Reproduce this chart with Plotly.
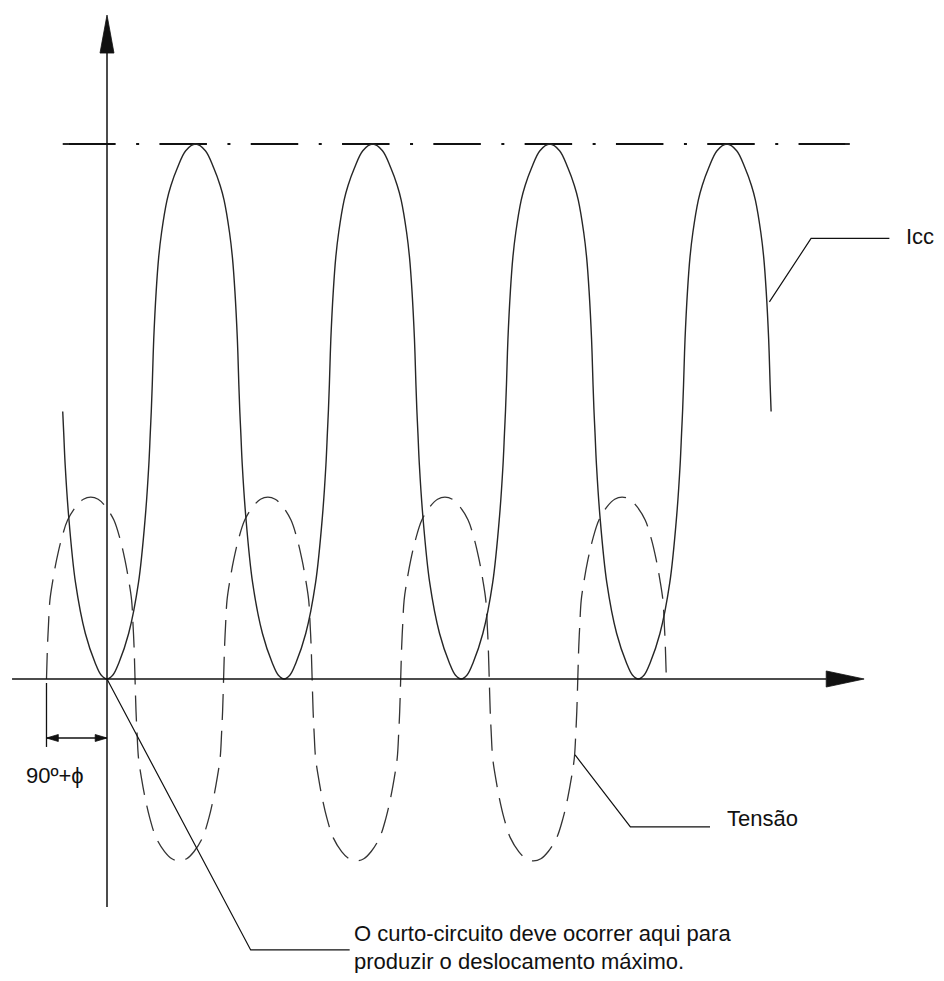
import plotly.graph_objects as go

# ---------------- data (x: electrical degrees, y: per-unit of symmetric peak) -------------
# Icc: fully offset short-circuit current, read arch by arch
ICC_TROUGH_CENTERS = [0, 360, 720, 1080]
ICC_PEAK_CENTERS = [180, 540, 900, 1260]
ICC_TROUGH_OFFSETS = [-90, -88, -85, -78, -64, -44, -24, -12, 0, 12, 24, 44, 64, 78, 85, 88, 90]
ICC_TROUGH_VALUES = [1.0, 0.92, 0.80, 0.61, 0.36, 0.17, 0.06, 0.015, 0.0,
                     0.015, 0.06, 0.17, 0.36, 0.61, 0.80, 0.92, 1.0]
ICC_PEAK_OFFSETS = [-90, -88, -85, -80, -75, -69, -58, -50, -37, -20, 0,
                    20, 37, 50, 58, 69, 75, 80, 85, 88, 90]
ICC_PEAK_VALUES = [1.0, 1.10, 1.27, 1.45, 1.575, 1.67, 1.79, 1.845, 1.91, 1.975, 2.0,
                   1.975, 1.91, 1.845, 1.79, 1.67, 1.575, 1.45, 1.27, 1.10, 1.0]
ICC_PEAK_LEVEL = 2.0

# Tensão: supply voltage, 90º+phi ahead of the current zero
TENSAO_POS_CENTERS = [-33, 327, 687, 1047]
TENSAO_NEG_CENTERS = [147, 507, 867]
TENSAO_OFFSETS = [-90, -88, -86, -83, -77, -69.5, -60, -47, -30, -15, 0,
                  15, 30, 47, 60, 69.5, 77, 83, 86, 88, 90]
TENSAO_VALUES = [0.0, 0.121, 0.20, 0.295, 0.37, 0.445, 0.52, 0.594, 0.645, 0.672, 0.68,
                 0.672, 0.645, 0.594, 0.52, 0.445, 0.37, 0.295, 0.20, 0.121, 0.0]
TENSAO_START = -123          # voltage zero crossing (start of the 90º+phi interval)

# reference (peak) dash-dot line
REF_X = [-90, 1510]
REF_DASH_X = [-79, 1502]

# axes extents
X_AXIS = [-193, 1462]
X_ARROW_TIP = 1539
Y_AXIS = [-0.852, 2.345]
Y_ARROW_TIP = 2.482

# labels / leaders
LEADER_ICC_X = [1346.5, 1431.2, 1590.4]
LEADER_ICC_Y = [1.41, 1.647, 1.647]
LEADER_TENSAO_X = [951.5, 1063.9, 1225.8]
LEADER_TENSAO_Y = [-0.284, -0.553, -0.553]
LEADER_CC_X = [0, 292.1, 493.3]
LEADER_CC_Y = [0, -1.013, -1.013]
DIM_Y = -0.2206
DIM_EXT_Y = [-0.015, -0.254]

FONT = "Liberation Sans, Arial, Helvetica, sans-serif"
INK = "#111111"


def chain(arches):
    xs, ys = [], []
    for center, offs, vals in sorted(arches, key=lambda a: a[0]):
        for o, v in zip(offs, vals):
            x = center + o
            if xs and abs(xs[-1] - x) < 1e-9:
                continue
            xs.append(x)
            ys.append(v)
    return xs, ys


icc_x, icc_y = chain(
    [(c, ICC_TROUGH_OFFSETS, ICC_TROUGH_VALUES) for c in ICC_TROUGH_CENTERS]
    + [(c, ICC_PEAK_OFFSETS, ICC_PEAK_VALUES) for c in ICC_PEAK_CENTERS]
)
ten_x, ten_y = chain(
    [(c, TENSAO_OFFSETS, TENSAO_VALUES) for c in TENSAO_POS_CENTERS]
    + [(c, TENSAO_OFFSETS, [-v for v in TENSAO_VALUES]) for c in TENSAO_NEG_CENTERS]
)

fig = go.Figure()


def line(x, y, color=INK, width=1.4, dash="solid", shape="linear"):
    fig.add_trace(go.Scatter(x=x, y=y, mode="lines", hoverinfo="skip",
                             line=dict(color=color, width=width, dash=dash, shape=shape)))


def tri(x, y):
    fig.add_trace(go.Scatter(x=x + [x[0]], y=y + [y[0]], mode="lines", fill="toself",
                             fillcolor=INK, hoverinfo="skip", line=dict(color=INK, width=0.8)))


# peak reference line (dash-dot) with solid end pieces
line(REF_DASH_X, [ICC_PEAK_LEVEL] * 2, width=1.8, dash="47.5px,20.5px,3px,20.3px")
line([REF_X[0], REF_DASH_X[0], None, REF_DASH_X[1], REF_X[1]],
     [ICC_PEAK_LEVEL, ICC_PEAK_LEVEL, None, ICC_PEAK_LEVEL, ICC_PEAK_LEVEL], width=1.8)

# curves
line(ten_x, ten_y, color="#333333", width=1.3, dash="26px,11px", shape="spline")
line(icc_x, icc_y, color="#262626", width=1.4, shape="spline")

# axes
line(X_AXIS, [0, 0], width=1.5)
line([0, 0], Y_AXIS, width=1.5)
tri([X_AXIS[1], X_ARROW_TIP, X_AXIS[1]], [0.030, 0, -0.030])
tri([-14.2, 0, 14.2], [Y_AXIS[1] - 0.005, Y_ARROW_TIP, Y_AXIS[1] - 0.005])

# 90º+phi dimension
line([TENSAO_START, TENSAO_START], DIM_EXT_Y, width=1.3)
line([TENSAO_START, 0], [DIM_Y, DIM_Y], width=1.3)
tri([TENSAO_START, TENSAO_START + 24, TENSAO_START + 24], [DIM_Y, DIM_Y + 0.013, DIM_Y - 0.013])
tri([0, -24, -24], [DIM_Y, DIM_Y + 0.013, DIM_Y - 0.013])

# leaders
line(LEADER_ICC_X, LEADER_ICC_Y, width=1.2)
line(LEADER_TENSAO_X, LEADER_TENSAO_Y, width=1.2)
line(LEADER_CC_X, LEADER_CC_Y, width=1.2)


def label(text, x, y, size=22):
    fig.add_annotation(x=x, y=y, xref="x", yref="y", text=text, showarrow=False,
                       xanchor="left", yanchor="middle",
                       font=dict(family=FONT, size=size, color=INK))


label("Icc", 1620.0, 1.656)
label("Tensão", 1256.3, -0.52)
label("90º+ϕ", -168.7, -0.359)
label("O curto-circuito deve ocorrer aqui para", 498.0, -0.951)
label("produzir o deslocamento máximo.", 498.0, -1.056)

fig.update_layout(
    width=928, height=965,
    margin=dict(l=0, r=0, t=0, b=0),
    paper_bgcolor="white", plot_bgcolor="white",
    showlegend=False, hovermode=False,
    xaxis=dict(range=[-201.24, 1685.16], visible=False, fixedrange=True),
    yaxis=dict(range=[-1.0991, 2.5084], visible=False, fixedrange=True),
)

fig.write_html("out.html")
